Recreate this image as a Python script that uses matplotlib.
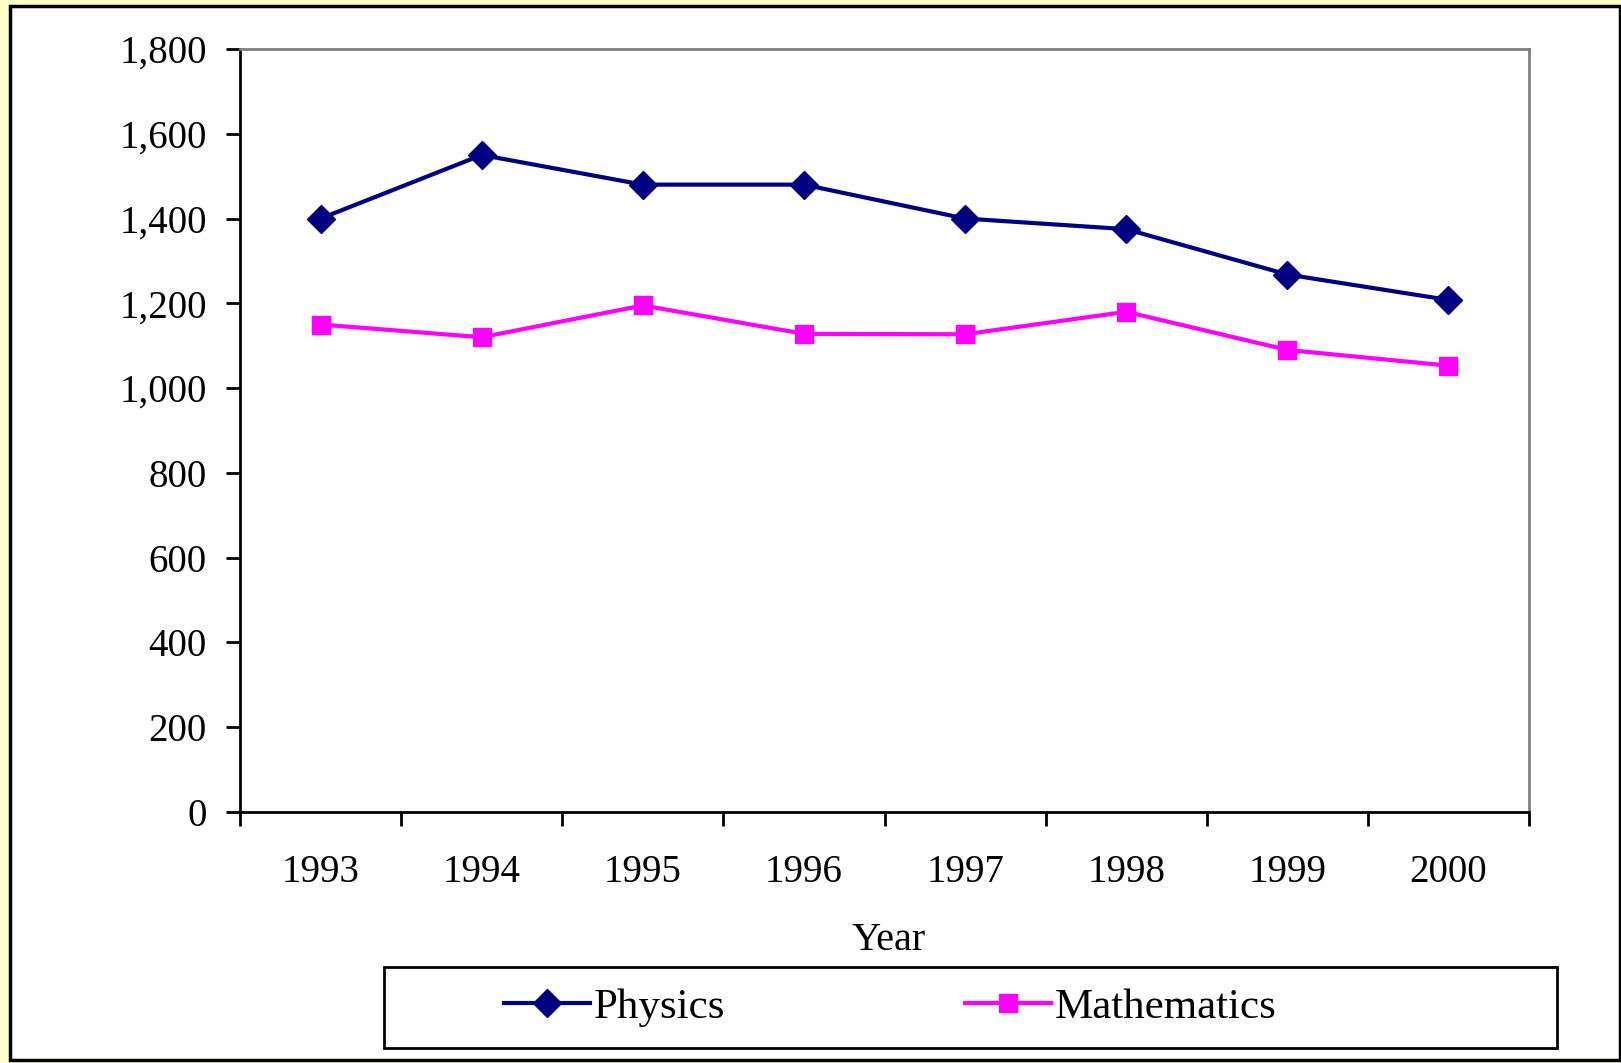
import matplotlib
matplotlib.use('Agg')
import matplotlib.pyplot as plt
from matplotlib.patches import Rectangle
from matplotlib.ticker import FixedLocator, StrMethodFormatter

years = ['1993', '1994', '1995', '1996', '1997', '1998', '1999', '2000']
physics = [1400, 1550, 1480, 1480, 1400, 1375, 1268, 1208]
mathematics = [1150, 1120, 1195, 1128, 1127, 1180, 1090, 1053]

plt.rcParams['font.family'] = ['Liberation Serif', 'DejaVu Serif']

W, H = 1621, 1063
fig = plt.figure(figsize=(W / 100, H / 100), dpi=100)
fig.patch.set_facecolor('#FFFFCC')

# white panel with black frame
fig.patches.append(Rectangle((10 / W, 3 / H), 1610 / W, 1054 / H, transform=fig.transFigure,
                             facecolor='white', edgecolor='black', linewidth=2.5, zorder=-2))

ax = fig.add_axes([240 / W, 1 - 812 / H, (1529 - 240) / W, (812 - 49) / H])
ax.set_zorder(3)
x = list(range(len(years)))
ax.plot(x, physics, color='#000080', lw=3, marker='D', ms=14, label='Physics')
ax.plot(x, mathematics, color='#FF00FF', lw=3, marker='s', ms=13, label='Mathematics')

ax.set_xlim(-0.5, len(years) - 0.5)
ax.set_ylim(0, 1800)
ax.set_yticks(range(0, 1801, 200))
ax.yaxis.set_major_formatter(StrMethodFormatter('{x:,.0f}'))

# ticks between categories, labels centred on them
ax.xaxis.set_major_locator(FixedLocator([i - 0.5 for i in range(len(years) + 1)]))
ax.xaxis.set_minor_locator(FixedLocator(x))
ax.set_xticklabels([], minor=False)
ax.set_xticklabels(years, minor=True)
ax.tick_params(axis='x', which='major', length=10, width=2, direction='out')
ax.tick_params(axis='x', which='minor', length=0, pad=30, labelsize=28)
ax.tick_params(axis='y', length=10, width=2, direction='out', pad=14, labelsize=28)

for s in ['left', 'bottom']:
    ax.spines[s].set_color('black')
    ax.spines[s].set_linewidth(2)
for s in ['top', 'right']:
    ax.spines[s].set_color('#808080')
    ax.spines[s].set_linewidth(2)

fig.text(889 / W, 1 - 941 / H, 'Year', ha='center', va='center', fontsize=29)

# legend frame
fig.patches.append(Rectangle((384 / W, 1 - 1048 / H), (1557 - 384) / W, 81 / H,
                             transform=fig.transFigure, facecolor='white',
                             edgecolor='black', linewidth=2, zorder=1))
leg = fig.legend(loc='center left', bbox_to_anchor=(465 / W, 1 - 1007 / H), ncol=2, frameon=False,
                 fontsize=31, handlelength=2.0, handletextpad=0.1, columnspacing=5.55)
leg.set_zorder(4)

fig.savefig('out.png', dpi=100, facecolor=fig.get_facecolor())
